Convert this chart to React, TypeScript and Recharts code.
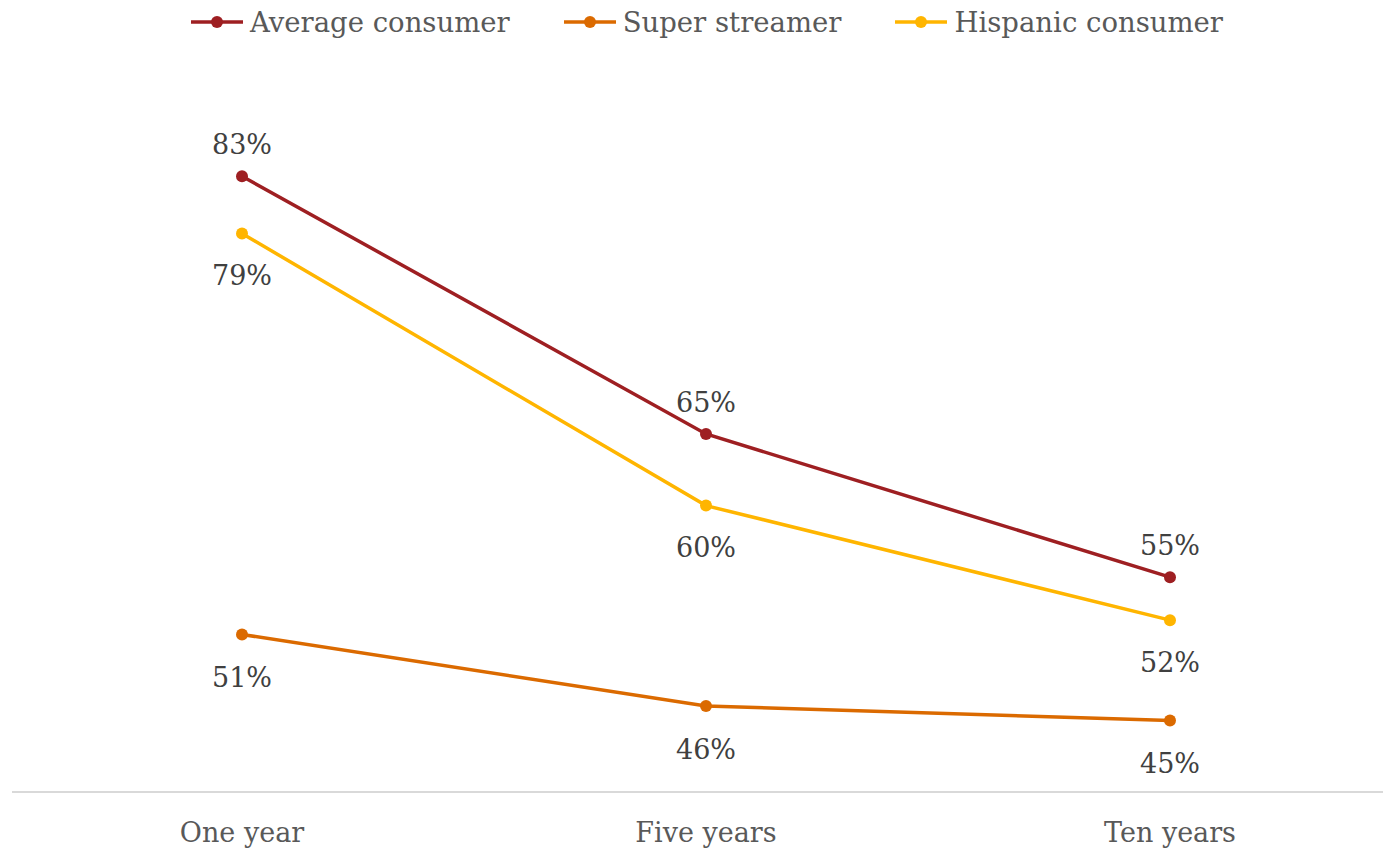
import React from "react";
import { LineChart, Line, XAxis, YAxis, LabelList } from "recharts";

const CATEGORIES = ["One year", "Five years", "Ten years"];
const AVERAGE_CONSUMER = [83, 65, 55];
const SUPER_STREAMER = [51, 46, 45];
const HISPANIC_CONSUMER = [79, 60, 52];

const SERIES = [
  { key: "average", name: "Average consumer", color: "#9E1F22", labelDy: -32 },
  { key: "super", name: "Super streamer", color: "#DB6A00", labelDy: 43 },
  { key: "hispanic", name: "Hispanic consumer", color: "#FFB500", labelDy: 42 },
];

const data = CATEGORIES.map((c, i) => ({
  cat: c,
  average: AVERAGE_CONSUMER[i],
  super: SUPER_STREAMER[i],
  hispanic: HISPANIC_CONSUMER[i],
}));

const FONT = "'DejaVu Serif', Georgia, serif";
const W = 1383;
const H = 851;

function makeLabel(dy: number) {
  return (props: any) => {
    const { x, y, value } = props;
    return (
      <text
        x={x}
        y={y + dy}
        textAnchor="middle"
        dominantBaseline="central"
        fontFamily={FONT}
        fontSize={27}
        fill="#404040"
      >
        {`${value}%`}
      </text>
    );
  };
}

function LegendRow() {
  return (
    <div
      style={{
        position: "absolute",
        top: 4,
        left: 0,
        width: W,
        display: "flex",
        justifyContent: "center",
        gap: 53,
        paddingLeft: 30,
        boxSizing: "border-box",
        fontFamily: FONT,
        fontSize: 27.5,
        color: "#595959",
      }}
    >
      {SERIES.map((s) => (
        <div key={s.key} style={{ display: "flex", alignItems: "center" }}>
          <svg width={54} height={36} style={{ marginRight: 6 }}>
            <line x1={1} y1={18} x2={53} y2={18} stroke={s.color} strokeWidth={3.5} />
            <circle cx={27} cy={18} r={6} fill={s.color} />
          </svg>
          <span>{s.name}</span>
        </div>
      ))}
    </div>
  );
}

export default function App() {
  return (
    <div style={{ position: "fixed", left: 0, top: 0, width: W, height: H, background: "#fff" }}>
      <LegendRow />
      <LineChart width={W} height={H} data={data} margin={{ top: 76, right: 0, left: 12, bottom: 0 }}>
        <XAxis
          dataKey="cat"
          height={59}
          padding={{ left: 230, right: 213 }}
          axisLine={{ stroke: "#D9D9D9", strokeWidth: 2 }}
          tickLine={false}
          tickMargin={25}
          tick={{ fontFamily: FONT, fontSize: 27, fill: "#595959" }}
        />
        <YAxis hide domain={[40, 90]} />
        {SERIES.map((s) => (
          <Line
            key={s.key}
            dataKey={s.key}
            name={s.name}
            stroke={s.color}
            strokeWidth={3.5}
            dot={{ r: 6, fill: s.color, stroke: s.color, strokeWidth: 0 }}
            activeDot={false}
            isAnimationActive={false}
          >
            <LabelList dataKey={s.key} content={makeLabel(s.labelDy)} />
          </Line>
        ))}
      </LineChart>
    </div>
  );
}
